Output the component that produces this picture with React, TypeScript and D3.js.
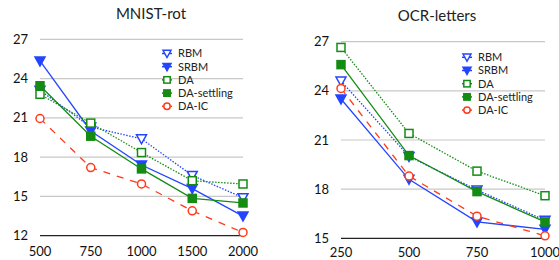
import React from "react";
import * as d3 from "d3";

// ---- data ----
const mnistSizes = ["500", "750", "1000", "1500", "2000"];
const mnistRBM = [23.1, 20.3, 19.4, 16.6, 14.9];
const mnistSRBM = [25.35, 20.0, 17.4, 15.6, 13.5];
const mnistDA = [22.8, 20.6, 18.35, 16.2, 15.95];
const mnistDASettling = [23.45, 19.6, 17.1, 14.85, 14.5];
const mnistDAIC = [20.95, 17.2, 15.95, 13.9, 12.25];
const mnistTicks = [12, 15, 18, 21, 24, 27];

const ocrSizes = ["250", "500", "750", "1000"];
const ocrRBM = [24.6, 20.0, 17.95, 16.1];
const ocrSRBM = [23.5, 18.6, 16.0, 15.55];
const ocrDA = [26.65, 21.4, 19.1, 17.6];
const ocrDASettling = [25.6, 20.05, 17.85, 16.0];
const ocrDAIC = [24.15, 18.8, 16.35, 15.15];
const ocrTicks = [15, 18, 21, 24, 27];

const seriesNames = ["RBM", "SRBM", "DA", "DA-settling", "DA-IC"];

const BLUE = "#2345ff";
const GREEN = "#148c14";
const RED = "#ff3b1c";
const FONT = "Lato, 'Open Sans', sans-serif";

type Style = { color: string; dash: string | null; marker: string; filled: boolean };
const styles: Style[] = [
  { color: BLUE, dash: "1.5,1.5", marker: "tri", filled: false },
  { color: BLUE, dash: null, marker: "tri", filled: true },
  { color: GREEN, dash: "1.5,1.5", marker: "sq", filled: false },
  { color: GREEN, dash: null, marker: "sq", filled: true },
  { color: RED, dash: "7,7", marker: "circ", filled: false },
];

function Marker({ x, y, s, k = 1 }: { x: number; y: number; s: Style; k?: number }) {
  const fill = s.filled ? s.color : "white";
  if (s.marker === "tri") {
    const p = [
      [x - 5 * k, y - 4 * k],
      [x + 5 * k, y - 4 * k],
      [x, y + 5 * k],
    ];
    return <polygon points={p.map((d) => d.join(",")).join(" ")} fill={fill} stroke={s.color} strokeWidth={1.5} />;
  }
  if (s.marker === "sq") {
    return <rect x={x - 4 * k} y={y - 4 * k} width={8 * k} height={8 * k} fill={fill} stroke={s.color} strokeWidth={1.5} />;
  }
  return <circle cx={x} cy={y} r={4 * k} fill={fill} stroke={s.color} strokeWidth={1.5} />;
}

function Panel(props: {
  title: string;
  titleX: number;
  titleY: number;
  cats: string[];
  series: number[][];
  ticks: number[];
  x0: number;
  x1: number;
  y0: number;
  y1: number;
  labelY: number;
  legendX: number;
  legendY: number;
}) {
  const x = d3.scalePoint<string>().domain(props.cats).range([props.x0, props.x1]);
  const ext = d3.extent(props.ticks) as [number, number];
  const y = d3.scaleLinear().domain(ext).range([props.y0, props.y1]);
  const line = d3
    .line<number>()
    .x((_, i) => x(props.cats[i])!)
    .y((d) => y(d));

  return (
    <g>
      <text x={props.titleX} y={props.titleY} textAnchor="middle" fontSize={15} fill="#222" fontFamily={FONT}>
        {props.title}
      </text>
      {props.ticks.map((t) => (
        <g key={t}>
          <line
            x1={props.x0}
            x2={props.x1}
            y1={y(t)}
            y2={y(t)}
            stroke={t === ext[0] ? "#222" : "#c8c8c8"}
            strokeWidth={1.2}
          />
          <text x={props.x0 - 12} y={y(t)} dy="0.35em" textAnchor="end" fontSize={13} fill="#111" fontFamily={FONT}>
            {t}
          </text>
        </g>
      ))}
      {props.cats.map((c) => (
        <text key={c} x={x(c)} y={props.labelY} textAnchor="middle" fontSize={13} fill="#111" fontFamily={FONT}>
          {c}
        </text>
      ))}
      {props.series.map((vals, si) => (
        <path
          key={si}
          d={line(vals) || ""}
          fill="none"
          stroke={styles[si].color}
          strokeWidth={1.3}
          strokeDasharray={styles[si].dash || undefined}
        />
      ))}
      {props.series.map((vals, si) => (
        <g key={"m" + si}>
          {vals.map((v, i) => (
            <Marker key={i} x={x(props.cats[i])!} y={y(v)} s={styles[si]} />
          ))}
        </g>
      ))}
      {seriesNames.map((n, i) => {
        const ly = props.legendY + i * 13.2;
        return (
          <g key={n}>
            <line
              x1={props.legendX - 5}
              x2={props.legendX + 5}
              y1={ly}
              y2={ly}
              stroke={styles[i].color}
              strokeWidth={1.5}
            />
            <Marker x={props.legendX} y={ly} s={{ ...styles[i], dash: null }} k={0.8} />
            <text x={props.legendX + 11} y={ly} dy="0.35em" fontSize={11} fill="#222" fontFamily={FONT}>
              {n}
            </text>
          </g>
        );
      })}
    </g>
  );
}

export default function App() {
  return (
    <svg
      width={559}
      height={260}
      style={{ position: "absolute", left: 0, top: 0, background: "white" }}
    >
      <rect width={559} height={260} fill="white" />
      <Panel
        title="MNIST-rot"
        titleX={151}
        titleY={19}
        cats={mnistSizes}
        series={[mnistRBM, mnistSRBM, mnistDA, mnistDASettling, mnistDAIC]}
        ticks={mnistTicks}
        x0={40}
        x1={243}
        y0={235.7}
        y1={39.3}
        labelY={256}
        legendX={167}
        legendY={53.5}
      />
      <Panel
        title="OCR-letters"
        titleX={437}
        titleY={21}
        cats={ocrSizes}
        series={[ocrRBM, ocrSRBM, ocrDA, ocrDASettling, ocrDAIC]}
        ticks={ocrTicks}
        x0={341}
        x1={545}
        y0={238.3}
        y1={41.7}
        labelY={256.5}
        legendX={467}
        legendY={57.3}
      />
    </svg>
  );
}
